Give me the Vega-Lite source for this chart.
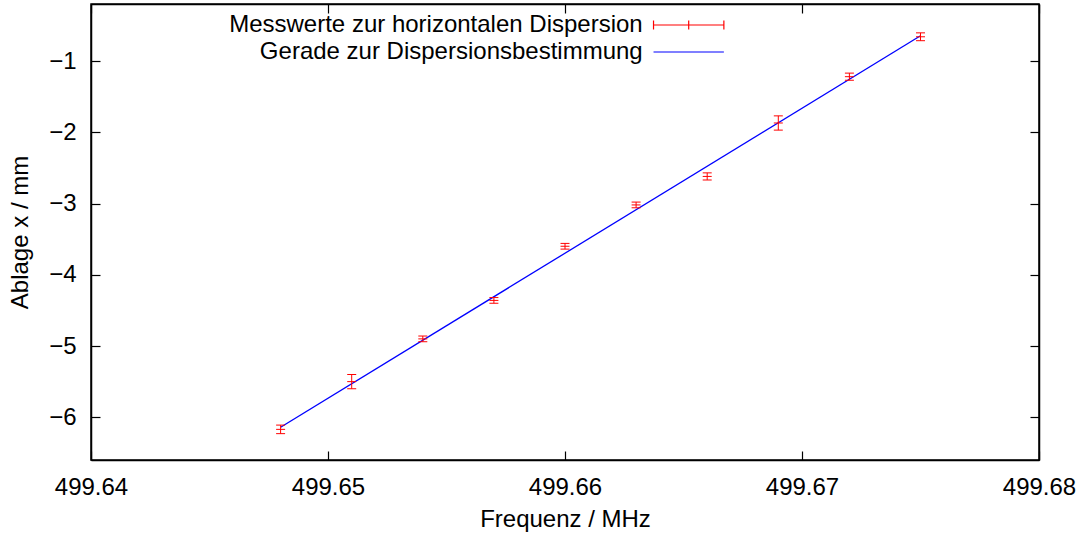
{
  "$schema": "https://vega.github.io/schema/vega-lite/v6.json",
  "width": 948,
  "height": 456,
  "autosize": {"type": "none"},
  "padding": {"left": 91, "top": 4, "right": 45, "bottom": 78},
  "background": "white",
  "datasets": {
    "pts": [
      {"f": 499.648, "x": -6.17, "lo": -6.23, "hi": -6.11},
      {"f": 499.651, "x": -5.50, "lo": -5.60, "hi": -5.40},
      {"f": 499.654, "x": -4.90, "lo": -4.94, "hi": -4.86},
      {"f": 499.657, "x": -4.36, "lo": -4.40, "hi": -4.32},
      {"f": 499.660, "x": -3.60, "lo": -3.64, "hi": -3.56},
      {"f": 499.663, "x": -3.02, "lo": -3.06, "hi": -2.98},
      {"f": 499.666, "x": -2.62, "lo": -2.67, "hi": -2.57},
      {"f": 499.669, "x": -1.87, "lo": -1.97, "hi": -1.77},
      {"f": 499.672, "x": -1.22, "lo": -1.27, "hi": -1.17},
      {"f": 499.675, "x": -0.66, "lo": -0.715, "hi": -0.605}
    ],
    "fit": [
      {"f": 499.648, "x": -6.14, "s": "Gerade zur Dispersionsbestimmung"},
      {"f": 499.675, "x": -0.645, "s": "Gerade zur Dispersionsbestimmung"}
    ]
  },
  "config": {
    "font": "Liberation Sans",
    "view": {"stroke": "black", "strokeWidth": 1.5},
    "axis": {
      "labelFont": "Liberation Sans",
      "labelFontSize": 24,
      "labelColor": "black",
      "titleFont": "Liberation Sans",
      "titleFontSize": 24,
      "titleFontWeight": "normal",
      "titleColor": "black",
      "domainColor": "black",
      "domainWidth": 1.5,
      "tickColor": "black",
      "tickWidth": 1.2,
      "tickSize": -9,
      "grid": false,
      "labelFlush": false,
      "labelOverlap": false
    }
  },
  "layer": [
    {
      "data": {"name": "fit"},
      "mark": {"type": "line", "strokeWidth": 1.3},
      "encoding": {
        "x": {
          "field": "f", "type": "quantitative",
          "scale": {"domain": [499.64, 499.68], "nice": false, "zero": false},
          "axis": {
            "orient": "bottom",
            "values": [499.64, 499.65, 499.66, 499.67, 499.68],
            "format": ".2f",
            "labelPadding": 24,
            "title": "Frequenz / MHz",
            "titleX": 474,
            "titleY": 66,
            "titleBaseline": "alphabetic",
            "titleAlign": "center"
          }
        },
        "y": {
          "field": "x", "type": "quantitative",
          "scale": {"domain": [-6.6, -0.2], "nice": false, "zero": false},
          "axis": {
            "orient": "left",
            "values": [-1, -2, -3, -4, -5, -6],
            "format": "d",
            "labelPadding": 24,
            "title": "Ablage x / mm",
            "titleX": -64,
            "titleY": 228,
            "titleAngle": -90,
            "titleBaseline": "alphabetic",
            "titleAlign": "center"
          }
        },
        "color": {
          "field": "s", "type": "nominal",
          "scale": {
            "domain": ["Messwerte zur horizontalen Dispersion", "Gerade zur Dispersionsbestimmung"],
            "range": ["#ff0000", "#0000ff"]
          },
          "legend": {
            "orient": "none",
            "legendX": 585.7,
            "legendY": 9,
            "title": null,
            "direction": "vertical",
            "labelAlign": "right",
            "labelOffset": -58,
            "labelFont": "Liberation Sans",
            "labelFontSize": 24,
            "labelColor": "black",
            "labelLimit": 1000,
            "symbolSize": 124.7,
            "symbolStrokeWidth": 1.2,
            "rowPadding": 3,
            "padding": 0,
            "symbolType": "M-6.3,0H6.3",
            "encode": {
              "symbols": {
                "update": {
                  "shape": {"signal": "datum.value === 'Gerade zur Dispersionsbestimmung' ? 'M-6.3,0H6.3' : 'M-6.3,0H6.3M-6.3,-0.8V0.8M6.3,-0.8V0.8M0,-0.8V0.8'"},
                  "fill": {"value": "transparent"}
                }
              }
            }
          }
        }
      }
    },
    {
      "data": {"name": "pts"},
      "mark": {"type": "rule", "strokeWidth": 1, "color": "#ff0000"},
      "encoding": {
        "x": {
          "field": "f", "type": "quantitative",
          "axis": {"orient": "top", "values": [499.64, 499.65, 499.66, 499.67, 499.68], "labels": false, "title": null}
        },
        "y": {
          "field": "lo", "type": "quantitative",
          "axis": {"orient": "right", "values": [-1, -2, -3, -4, -5, -6], "labels": false, "title": null}
        },
        "y2": {"field": "hi"}
      }
    },
    {
      "data": {"name": "pts"},
      "mark": {"type": "tick", "orient": "horizontal", "size": 9, "thickness": 1, "color": "#ff0000", "opacity": 1},
      "encoding": {
        "x": {"field": "f", "type": "quantitative", "axis": null},
        "y": {"field": "lo", "type": "quantitative", "axis": null}
      }
    },
    {
      "data": {"name": "pts"},
      "mark": {"type": "tick", "orient": "horizontal", "size": 9, "thickness": 1, "color": "#ff0000", "opacity": 1},
      "encoding": {
        "x": {"field": "f", "type": "quantitative", "axis": null},
        "y": {"field": "hi", "type": "quantitative", "axis": null}
      }
    },
    {
      "data": {"name": "pts"},
      "mark": {"type": "tick", "orient": "horizontal", "size": 9, "thickness": 1, "color": "#ff0000", "opacity": 1},
      "encoding": {
        "x": {"field": "f", "type": "quantitative", "axis": null},
        "y": {"field": "x", "type": "quantitative", "axis": null}
      }
    }
  ],
  "resolve": {"axis": {"x": "independent", "y": "independent"}}
}
